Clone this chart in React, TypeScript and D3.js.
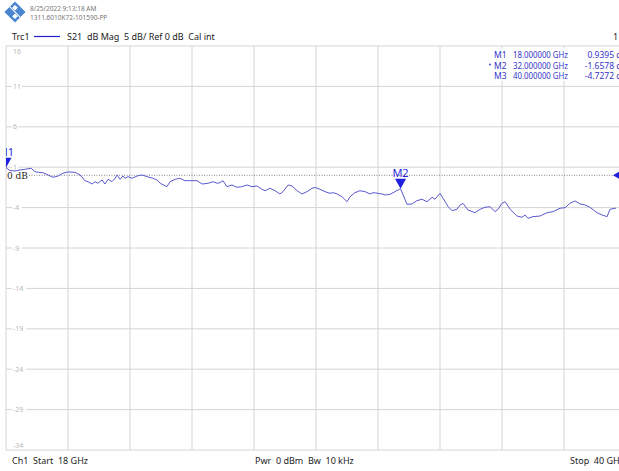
import React from "react";
import * as d3 from "d3";

const freqGHz = [18.0,18.14,18.32,18.5,18.67,18.89,19.03,19.14,19.31,19.49,19.67,19.85,20.02,20.2,20.45,20.63,20.8,20.91,21.05,21.16,21.26,21.41,21.51,21.62,21.76,21.87,21.94,22.05,22.15,22.22,22.33,22.47,22.65,22.83,23.0,23.22,23.36,23.47,23.71,23.82,24.0,24.17,24.35,24.6,24.78,24.96,25.17,25.35,25.49,25.59,25.7,25.84,26.02,26.2,26.37,26.55,26.73,26.91,27.08,27.19,27.37,27.55,27.72,27.83,28.01,28.15,28.33,28.5,28.68,28.86,28.97,29.14,29.32,29.5,29.6,29.75,29.92,30.1,30.21,30.38,30.56,30.74,30.92,31.02,31.2,31.34,31.45,31.63,31.8,32.0,32.23,32.41,32.58,32.76,32.94,33.12,33.22,33.4,33.51,33.69,33.83,34.0,34.11,34.22,34.39,34.64,34.82,35.0,35.18,35.35,35.46,35.6,35.71,35.89,36.13,36.31,36.42,36.52,36.7,36.95,37.2,37.41,37.66,37.84,38.01,38.19,38.37,38.55,38.72,38.97,39.15,39.33,39.43,39.61,39.75,40.0];
const s21dB = [0.94,0.59,0.53,0.66,0.74,0.87,0.45,0.37,0.32,0.04,-0.25,-0.09,0.25,0.41,0.37,0.04,-0.67,-0.79,-1.08,-0.79,-0.99,-0.58,-1.08,-0.5,-0.79,-0.37,0.04,-0.5,-0.09,-0.37,-0.17,-0.37,-0.09,0.04,-0.17,-0.37,-0.58,-0.99,-1.41,-0.79,-0.5,-0.37,-0.67,-0.67,-0.67,-1.08,-0.99,-0.79,-0.99,-0.92,-0.67,-1.41,-1.2,-1.49,-1.41,-1.2,-1.41,-1.32,-1.73,-1.91,-1.61,-1.91,-2.31,-2.03,-1.2,-1.32,-1.91,-2.31,-2.03,-1.61,-1.51,-1.73,-2.03,-2.23,-2.15,-2.31,-2.65,-3.27,-2.65,-2.15,-1.91,-2.03,-2.31,-2.15,-2.23,-2.31,-2.44,-2.35,-2.03,-1.66,-3.59,-3.55,-3.14,-2.97,-3.27,-2.72,-2.97,-2.23,-2.85,-3.89,-4.38,-4.21,-3.68,-3.49,-4.29,-4.63,-4.21,-3.96,-3.89,-4.5,-4.21,-3.47,-3.27,-4.21,-5.04,-5.2,-4.91,-5.32,-5.12,-5.04,-4.63,-4.5,-4.08,-4.01,-3.47,-3.18,-3.55,-3.68,-3.96,-4.63,-4.91,-5.12,-4.21,-4.08,-4.08,-4.73];

const yTicks = [16, 11, 6, 1, -4, -9, -14, -19, -24, -29, -34];
const xGridCount = 10;

const markerNames = ["M1", "M2", "M3"];
const markerFreq = [18.0, 32.0, 40.0];
const markerVal = [0.9395, -1.6578, -4.7272];
const markerFreqText = ["18.000000 GHz", "32.000000 GHz", "40.000000 GHz"];
const markerValText = ["0.9395 dB", "-1.6578 dB", "-4.7272 dB"];

const headerDate = "8/25/2022 9:13:18 AM";
const headerId = "1311.6010K72-101590-PP";
const traceLabel = "S21  dB Mag  5 dB/ Ref 0 dB  Cal int";

export default function App() {
  const W = 619, H = 471;
  const left = 6, right = 626, top = 46, bottom = 450;
  const x = d3.scaleLinear().domain([18, 40]).range([left, right]);
  const y = d3.scaleLinear().domain([16, -34]).range([top, bottom]);
  const pts = freqGHz.map((f, i) => [f, s21dB[i]] as [number, number]);
  const line = d3.line<[number, number]>().x(d => x(d[0])).y(d => y(d[1]));
  const xGrid = d3.range(0, xGridCount + 1).map(i => 18 + (22 * i) / xGridCount);
  const font = "'Noto Sans', 'Open Sans', sans-serif";
  const grid = "#d4d4d4";
  const trace = "#5a5ad0";
  const mk = "#1f1fe0";
  const mkText = "#3535c8";

  return (
    <svg width={W} height={H} style={{ position: "absolute", left: 0, top: 0, background: "#fff" }} fontFamily={font}>
      <defs>
        <clipPath id="plotclip">
          <rect x={left} y={top - 20} width={616 - left} height={bottom - top + 20} />
        </clipPath>
      </defs>
      {/* logo */}
      <g transform="translate(15,12) rotate(45)">
        <rect x={-7.5} y={-7.5} width={15} height={15} fill="#4a86d0" />
        <rect x={-5} y={-5} width={4} height={4} fill="#fff" />
        <rect x={1} y={1} width={4} height={4} fill="#fff" />
        <line x1={-7.5} y1={0} x2={7.5} y2={0} stroke="#fff" strokeWidth={1} />
      </g>
      <text x={30} y={11} fontSize={6.5} fill="#777">{headerDate}</text>
      <text x={30} y={19.5} fontSize={6.5} fill="#777">{headerId}</text>
      <text x={12} y={40} fontSize={9} fill="#222">Trc1</text>
      <line x1={34} y1={36.5} x2={60} y2={36.5} stroke="#2020d0" strokeWidth={1.2} />
      <text x={67} y={40} fontSize={9} fill="#222" style={{ whiteSpace: "pre" }}>{traceLabel}</text>
      <text x={613} y={40} fontSize={9} fill="#222">1</text>

      {/* grid */}
      {xGrid.map((g, i) => (
        <line key={"vx" + i} x1={x(g)} x2={x(g)} y1={top} y2={bottom} stroke={grid} strokeWidth={1} />
      ))}
      {yTicks.map((t, i) => (
        <line key={"hy" + i} x1={left} x2={right} y1={y(t)} y2={y(t)} stroke={grid} strokeWidth={1} />
      ))}
      {yTicks.map((t, i) => {
        const isTop = i === 0, isBot = i === yTicks.length - 1;
        const ty = isTop ? y(t) + 8 : isBot ? y(t) - 2 : y(t) + 2.5;
        const label = String(t);
        const w = label.length * 4 + 2;
        return (
          <g key={"yl" + i}>
            {!isTop && !isBot && <rect x={12} y={y(t) - 3} width={w} height={6} fill="#fff" />}
            <text x={13} y={ty} fontSize={7} fill="#b8b8b8">{label}</text>
          </g>
        );
      })}

      {/* marker table background */}
      <rect x={486} y={48} width={133} height={33} fill="#fff" />

      {/* reference line */}
      <line x1={29} x2={614} y1={y(0)} y2={y(0)} stroke="#666" strokeWidth={0.8} strokeDasharray="1,1.5" />
      <text x={7} y={y(0) + 3.5} fontSize={9} fill="#222" fontFamily="'DejaVu Serif', serif">0 dB</text>
      <path d={`M${613},${y(0)} L${619},${y(0) - 3.5} L${619},${y(0) + 3.5} Z`} fill={mk} />

      {/* trace */}
      <g clipPath="url(#plotclip)">
        <path d={line(pts) || ""} fill="none" stroke={trace} strokeWidth={1} />
        {markerFreq.map((f, i) => {
          const mx = x(f), my = y(markerVal[i]);
          return (
            <g key={"m" + i}>
              <path d={`M${mx},${my} L${mx - 5.5},${my - 10} L${mx + 5.5},${my - 10} Z`} fill={mk} />
              <text x={mx} y={my - 11.5} fontSize={11} fill={mk} textAnchor="middle">{markerNames[i]}</text>
            </g>
          );
        })}
      </g>

      {/* marker table */}
      {markerNames.map((n, i) => (
        <g key={"mt" + i} fontSize={8.5} fill={mkText}>
          {i === 1 && <circle cx={490} cy={65.5 - 1} r={0.9} fill={mkText} />}
          <text x={494} y={58 + i * 10.5}>{n}</text>
          <text x={513} y={58 + i * 10.5} textLength={55} lengthAdjust="spacingAndGlyphs">{markerFreqText[i]}</text>
          <text x={627} y={58 + i * 10.5} textAnchor="end">{markerValText[i]}</text>
        </g>
      ))}

      {/* footer */}
      <text x={12} y={464} fontSize={9} fill="#222" style={{ whiteSpace: "pre" }}>Ch1  Start  18 GHz</text>
      <text x={255} y={464} fontSize={9} fill="#222" style={{ whiteSpace: "pre" }}>Pwr  0 dBm  Bw  10 kHz</text>
      <text x={570} y={464} fontSize={9} fill="#222" style={{ whiteSpace: "pre" }}>Stop  40 GHz</text>
    </svg>
  );
}
